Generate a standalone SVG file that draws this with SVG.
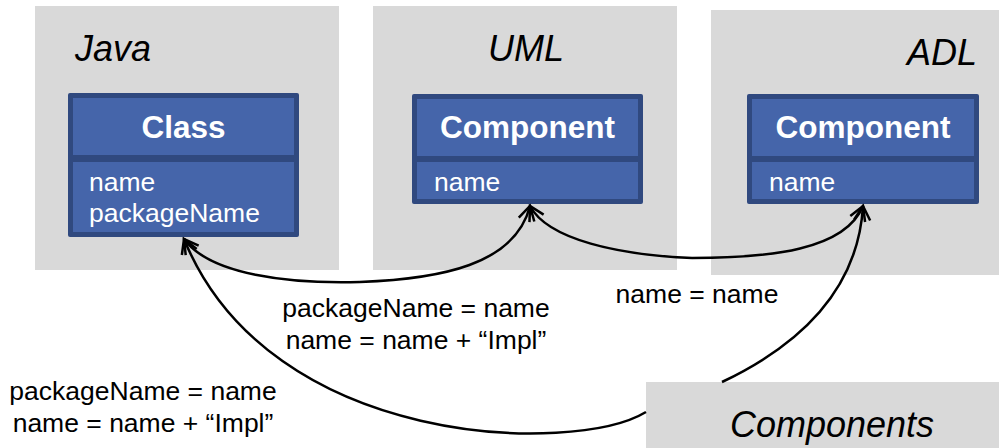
<svg xmlns="http://www.w3.org/2000/svg" width="999" height="448" viewBox="0 0 999 448">
  <defs>
    <style>
      .panel { fill: #D9D9D9; }
      .title { font-family: "Liberation Sans", Arial, sans-serif; font-style: italic; font-size: 36px; fill: #000; }
      .frame { fill: #30497F; }
      .band { fill: #4565AA; }
      .head { font-family: "Liberation Sans", Arial, sans-serif; font-weight: bold; font-size: 31.5px; fill: #fff; text-anchor: middle; }
      .attr { font-family: "Liberation Sans", Arial, sans-serif; font-size: 26.5px; fill: #fff; }
      .rule { font-family: "Liberation Sans", Arial, sans-serif; font-size: 26.5px; fill: #000; text-anchor: middle; }
      .link { fill: none; stroke: #000; stroke-width: 2.5; marker-end: url(#open); }
    </style>
    <marker id="open" markerUnits="userSpaceOnUse" markerWidth="30" markerHeight="30" viewBox="-20 -15 30 30" refX="0" refY="0" orient="auto">
      <path d="M -14,-8 L 0,0 L -14,8" fill="none" stroke="#000" stroke-width="2.5" stroke-linejoin="miter"/>
    </marker>
  </defs>

  <!-- metamodel panels -->
  <g id="java">
    <rect class="panel" x="35" y="6" width="304" height="264"/>
    <text class="title" x="75" y="61">Java</text>
  </g>
  <g id="uml">
    <rect class="panel" x="373" y="6" width="304" height="264"/>
    <text class="title" x="526" y="61" text-anchor="middle">UML</text>
  </g>
  <g id="adl">
    <rect class="panel" x="711" y="10" width="288" height="265"/>
    <text class="title" x="977" y="65" text-anchor="end">ADL</text>
  </g>
  <g id="components">
    <rect class="panel" x="646" y="382" width="353" height="66"/>
    <text class="title" x="832" y="437" text-anchor="middle" font-size="37">Components</text>
  </g>

  <!-- class boxes -->
  <g id="java-class">
    <rect class="frame" x="68" y="93" width="231" height="144" rx="2"/>
    <rect class="band" x="73" y="98" width="221" height="57"/>
    <rect class="band" x="73" y="162" width="221" height="70"/>
    <text class="head" x="183.5" y="138">Class</text>
    <text class="attr" x="89" y="191">name</text>
    <text class="attr" x="89" y="222">packageName</text>
  </g>
  <g id="uml-component">
    <rect class="frame" x="412" y="94" width="231" height="110" rx="2"/>
    <rect class="band" x="417" y="99" width="221" height="57"/>
    <rect class="band" x="417" y="162" width="221" height="37"/>
    <text class="head" x="527.5" y="138">Component</text>
    <text class="attr" x="434" y="191">name</text>
  </g>
  <g id="adl-component">
    <rect class="frame" x="747" y="94" width="232" height="110" rx="2"/>
    <rect class="band" x="752" y="99" width="222" height="57"/>
    <rect class="band" x="752" y="162" width="222" height="37"/>
    <text class="head" x="863" y="138">Component</text>
    <text class="attr" x="769" y="191">name</text>
  </g>

  <!-- mapping connectors, each pair drawn as two arrows from the low point -->
  <g id="connectors">
    <path class="link" d="M 360,282 C 290,284 210,275 184,239"/>
    <path class="link" d="M 360,282 C 440,279 515,265 530,206"/>
    <path class="link" d="M 692,258 C 620,255 548,240 530,206"/>
    <path class="link" d="M 692,258 C 770,258 845,250 863,206"/>
    <path class="link" d="M 722,382 C 800,345 858,290 863,206"/>
    <path class="link" d="M 646,412 C 575,455 270,450 184,239"/>
  </g>

  <!-- mapping rules -->
  <g id="labels">
    <text class="rule" x="416" y="317">packageName = name</text>
    <text class="rule" x="416" y="349">name = name + “Impl”</text>
    <text class="rule" x="697" y="303">name = name</text>
    <text class="rule" x="143" y="400">packageName = name</text>
    <text class="rule" x="143" y="432">name = name + “Impl”</text>
  </g>
</svg>
